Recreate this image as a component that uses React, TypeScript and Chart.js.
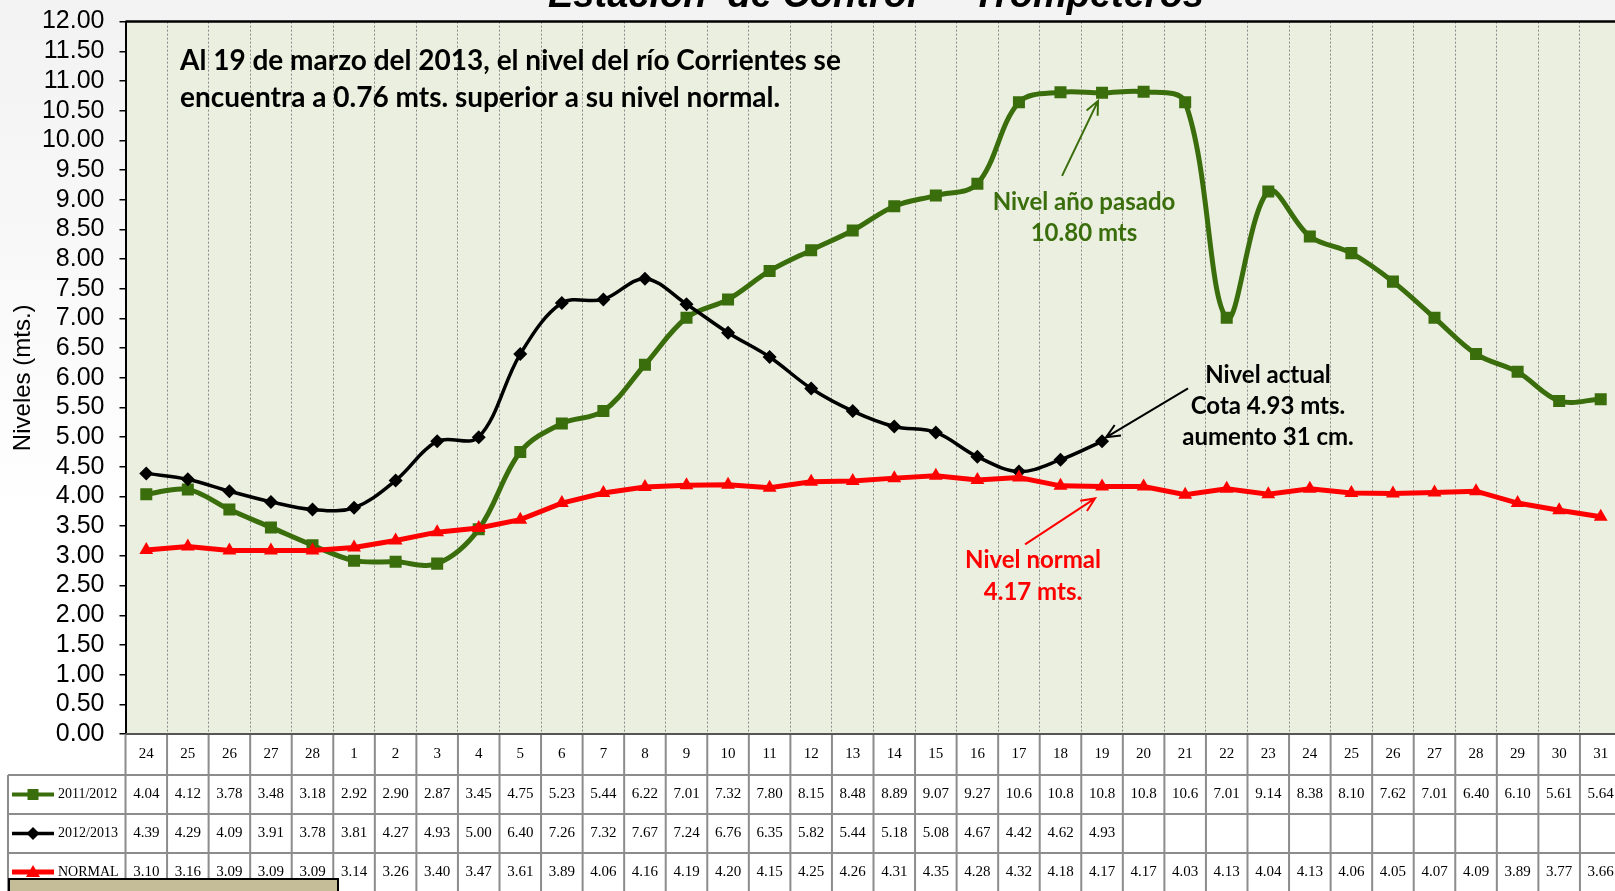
import React, { useEffect, useRef } from "react";
import { Chart, registerables } from "chart.js";

Chart.register(...registerables);

const categories = [
  "24", "25", "26", "27", "28",
  "1", "2", "3", "4", "5", "6", "7", "8", "9", "10", "11", "12", "13", "14", "15",
  "16", "17", "18", "19", "20", "21", "22", "23", "24", "25", "26", "27", "28", "29", "30", "31",
];

const nivel20112012 = [
  4.04, 4.12, 3.78, 3.48, 3.18,
  2.92, 2.9, 2.87, 3.45, 4.75, 5.23, 5.44, 6.22, 7.01, 7.32, 7.8, 8.15, 8.48, 8.89, 9.07,
  9.27, 10.64, 10.81, 10.8, 10.82, 10.64, 7.01, 9.14, 8.38, 8.1, 7.62, 7.01, 6.4, 6.1, 5.61, 5.64,
];

const nivel20122013: (number | null)[] = [
  4.39, 4.29, 4.09, 3.91, 3.78,
  3.81, 4.27, 4.93, 5.0, 6.4, 7.26, 7.32, 7.67, 7.24, 6.76, 6.35, 5.82, 5.44, 5.18, 5.08,
  4.67, 4.42, 4.62, 4.93, null, null, null, null, null, null, null, null, null, null, null, null,
];

const nivelNormal = [
  3.1, 3.16, 3.09, 3.09, 3.09,
  3.14, 3.26, 3.4, 3.47, 3.61, 3.89, 4.06, 4.16, 4.19, 4.2, 4.15, 4.25, 4.26, 4.31, 4.35,
  4.28, 4.32, 4.18, 4.17, 4.17, 4.03, 4.13, 4.04, 4.13, 4.06, 4.05, 4.07, 4.09, 3.89, 3.77, 3.66,
];

const seriesNames = ["2011/2012", "2012/2013", "NORMAL"];
const seriesColors = ["#3A6D0B", "#000000", "#FF0000"];

const titleText = "Estación  de Control  -  Trompeteros";
const yTitle = "Niveles (mts.)";
const noteLines = [
  "Al 19 de marzo del 2013, el nivel del río Corrientes se",
  "encuentra a 0.76 mts. superior a su nivel normal.",
];
const greenNote = ["Nivel año pasado", "10.80 mts"];
const blackNote = ["Nivel actual", "Cota 4.93 mts.", "aumento 31 cm."];
const redNote = ["Nivel normal", "4.17 mts."];

const fmt = (v: number | null) =>
  v == null ? "" : v >= 10 ? v.toPrecision(3) : v.toFixed(2);

const CANVAS_W = 1630;
const CANVAS_H = 891;

function arrow(ctx: CanvasRenderingContext2D, x1: number, y1: number, x2: number, y2: number, color: string, w: number) {
  ctx.save();
  ctx.strokeStyle = color;
  ctx.lineWidth = w;
  ctx.beginPath();
  ctx.moveTo(x1, y1);
  ctx.lineTo(x2, y2);
  const ang = Math.atan2(y2 - y1, x2 - x1);
  const L = 15;
  const a = 0.42;
  ctx.moveTo(x2 - L * Math.cos(ang - a), y2 - L * Math.sin(ang - a));
  ctx.lineTo(x2, y2);
  ctx.lineTo(x2 - L * Math.cos(ang + a), y2 - L * Math.sin(ang + a));
  ctx.stroke();
  ctx.restore();
}

function drawMarker(ctx: CanvasRenderingContext2D, kind: number, x: number, y: number, color: string) {
  ctx.save();
  ctx.fillStyle = color;
  ctx.beginPath();
  if (kind === 0) {
    ctx.rect(x - 5.5, y - 5.5, 11, 11);
  } else if (kind === 1) {
    ctx.moveTo(x, y - 6.5);
    ctx.lineTo(x + 6.5, y);
    ctx.lineTo(x, y + 6.5);
    ctx.lineTo(x - 6.5, y);
    ctx.closePath();
  } else {
    ctx.moveTo(x, y - 7);
    ctx.lineTo(x + 7, y + 5);
    ctx.lineTo(x - 7, y + 5);
    ctx.closePath();
  }
  ctx.fill();
  ctx.restore();
}

const decorPlugin = {
  id: "decor",
  beforeDraw(chart: any) {
    const { ctx, chartArea: a } = chart;
    ctx.save();
    ctx.fillStyle = "#FFFFFF";
    ctx.fillRect(0, 0, chart.width, chart.height);
    const g = ctx.createLinearGradient(0, 0, 0, 520);
    g.addColorStop(0, "#F2F2F2");
    g.addColorStop(1, "#FFFFFF");
    ctx.fillStyle = g;
    ctx.fillRect(0, 0, a.left, 520);
    ctx.fillStyle = "#F3F3F3";
    ctx.fillRect(0, 0, chart.width, a.top);
    ctx.fillStyle = "#EBEFDF";
    ctx.fillRect(a.left, a.top, a.right - a.left, a.bottom - a.top);
    ctx.restore();
  },
  afterDraw(chart: any) {
    const { ctx, chartArea: a } = chart;
    const xs = chart.scales.x;
    const ys = chart.scales.y;
    const n = categories.length;
    const step = (a.right - a.left) / n;
    const px = (i: number) => xs.getPixelForValue(i);
    const py = (v: number) => ys.getPixelForValue(v);

    ctx.save();
    // title (cut at top)
    ctx.fillStyle = "#000";
    ctx.font = 'italic bold 38px "Liberation Sans"';
    ctx.textAlign = "center";
    ctx.textBaseline = "alphabetic";
    ctx.fillText(titleText, 876, 7);

    // plot top border
    ctx.strokeStyle = "#000";
    ctx.lineWidth = 2.5;
    ctx.beginPath();
    ctx.moveTo(a.left, a.top);
    ctx.lineTo(a.right, a.top);
    ctx.stroke();

    // data table
    const rowTop = a.bottom;
    const rows = [rowTop, rowTop + 41, rowTop + 80, rowTop + 119, CANVAS_H + 5];
    const tableLeft = 8;
    ctx.strokeStyle = "#8C8C8C";
    ctx.lineWidth = 2;
    ctx.beginPath();
    for (let k = 0; k <= n; k++) {
      const x = a.left + k * step;
      ctx.moveTo(x, rowTop);
      ctx.lineTo(x, CANVAS_H);
    }
    for (let r = 1; r <= 3; r++) {
      ctx.moveTo(tableLeft, rows[r]);
      ctx.lineTo(a.right, rows[r]);
    }
    ctx.moveTo(tableLeft, rows[1]);
    ctx.lineTo(tableLeft, CANVAS_H);
    ctx.stroke();

    // axis bottom line
    ctx.strokeStyle = "#555";
    ctx.lineWidth = 2;
    ctx.beginPath();
    ctx.moveTo(a.left, a.bottom);
    ctx.lineTo(a.right, a.bottom);
    ctx.stroke();

    ctx.fillStyle = "#000";
    ctx.font = '15px "Liberation Serif"';
    ctx.textAlign = "center";
    ctx.textBaseline = "middle";
    for (let i = 0; i < n; i++) {
      ctx.fillText(categories[i], px(i), (rows[0] + rows[1]) / 2);
    }
    const series = [nivel20112012, nivel20122013, nivelNormal];
    const lw = [4, 3.5, 5];
    for (let s = 0; s < 3; s++) {
      const cy = s < 2 ? (rows[s + 1] + rows[s + 2]) / 2 : rows[3] + 19;
      ctx.fillStyle = "#000";
      ctx.textAlign = "center";
      for (let i = 0; i < n; i++) {
        ctx.fillText(fmt(series[s][i] as number | null), px(i), cy);
      }
      ctx.strokeStyle = seriesColors[s];
      ctx.lineWidth = lw[s];
      ctx.beginPath();
      ctx.moveTo(12, cy);
      ctx.lineTo(54, cy);
      ctx.stroke();
      drawMarker(ctx, s, 33, cy, seriesColors[s]);
      ctx.fillStyle = "#000";
      ctx.textAlign = "left";
      ctx.font = '14px "Liberation Serif"';
      ctx.fillText(seriesNames[s], 58, cy);
      ctx.font = '15px "Liberation Serif"';
    }

    // tan box at bottom-left
    ctx.fillStyle = "#C4BD97";
    ctx.fillRect(9, 879, 329, 20);
    ctx.strokeStyle = "#000";
    ctx.lineWidth = 2;
    ctx.strokeRect(9, 879, 329, 20);

    // annotations
    ctx.textBaseline = "middle";
    ctx.fillStyle = "#000";
    ctx.font = 'bold 28px Lato';
    ctx.textAlign = "left";
    ctx.fillText(noteLines[0], 180, 61);
    ctx.fillText(noteLines[1], 180, 98);

    ctx.textAlign = "center";
    ctx.font = 'bold 24px Lato';
    ctx.fillStyle = seriesColors[0];
    ctx.fillText(greenNote[0], 1084, 202);
    ctx.fillText(greenNote[1], 1084, 233);
    ctx.fillStyle = "#000";
    ctx.fillText(blackNote[0], 1268, 375);
    ctx.fillText(blackNote[1], 1268, 406);
    ctx.fillText(blackNote[2], 1268, 437);
    ctx.fillStyle = "#FF0000";
    ctx.fillText(redNote[0], 1033, 560);
    ctx.fillText(redNote[1], 1033, 592);

    const xi = px(23);
    arrow(ctx, xi - 40, py(10.8) + 83, xi - 4, py(10.8) + 8, seriesColors[0], 2);
    arrow(ctx, xi + 86, py(4.93) - 53, xi + 4, py(4.93) - 4, "#000", 2);
    arrow(ctx, xi - 77, py(4.17) + 58, xi - 7, py(4.17) + 12, "#FF0000", 2);
    ctx.restore();
  },
};

export default function App() {
  const ref = useRef<HTMLCanvasElement | null>(null);
  useEffect(() => {
    if (!ref.current) return;
    const chart = new Chart(ref.current, {
      type: "line",
      data: {
        labels: categories,
        datasets: [
          {
            label: seriesNames[0],
            data: nivel20112012,
            borderColor: seriesColors[0],
            backgroundColor: seriesColors[0],
            borderWidth: 5,
            tension: 0.35,
            pointStyle: "rect",
            pointRadius: 8.5,
            pointBorderWidth: 0,
            order: 3,
          },
          {
            label: seriesNames[1],
            data: nivel20122013,
            borderColor: seriesColors[1],
            backgroundColor: seriesColors[1],
            borderWidth: 3.5,
            tension: 0.35,
            pointStyle: "rectRot",
            pointRadius: 7,
            pointBorderWidth: 0,
            spanGaps: false,
            order: 2,
          },
          {
            label: seriesNames[2],
            data: nivelNormal,
            borderColor: seriesColors[2],
            backgroundColor: seriesColors[2],
            borderWidth: 5,
            tension: 0,
            pointStyle: "triangle",
            pointRadius: 8,
            pointBorderWidth: 0,
            order: 1,
          },
        ],
      },
      options: {
        responsive: false,
        animation: false,
        layout: { padding: { top: 21.6, left: 0, right: 5.5, bottom: 157 } },
        plugins: {
          legend: { display: false },
          tooltip: { enabled: false },
          title: { display: false },
        },
        scales: {
          x: {
            type: "category",
            offset: true,
            ticks: { display: false },
            grid: {
              offset: true,
              drawTicks: false,
              color: "#8A8A8A",
              lineWidth: 1,
            },
            border: { display: false, dash: [2, 2] },
            afterFit: (s: any) => {
              s.height = 0;
              s.paddingLeft = 0;
              s.paddingRight = 0;
            },
          },
          y: {
            min: 0,
            max: 12,
            ticks: {
              stepSize: 0.5,
              autoSkip: false,
              color: "#000",
              padding: 15,
              font: { family: '"Liberation Sans"', size: 25 },
              callback: (v: any) => Number(v).toFixed(2),
            },
            grid: {
              drawOnChartArea: false,
              drawTicks: true,
              tickLength: 6,
              color: "#000",
              lineWidth: 1.5,
            },
            border: { display: true, color: "#000", width: 2 },
            title: {
              display: true,
              text: yTitle,
              color: "#000",
              font: { family: '"Liberation Sans"', size: 24 },
              padding: { top: 9, bottom: 0 },
            },
            afterFit: (s: any) => {
              s.width = 125.5;
              s.paddingTop = 0;
              s.paddingBottom = 0;
            },
          },
        },
      },
      plugins: [decorPlugin],
    });
    return () => chart.destroy();
  }, []);

  return (
    <div
      style={{
        position: "absolute",
        left: 0,
        top: 0,
        width: 1615,
        height: 891,
        overflow: "hidden",
        background: "#fff",
      }}
    >
      <canvas ref={ref} width={CANVAS_W} height={CANVAS_H} style={{ width: CANVAS_W, height: CANVAS_H, display: "block" }} />
    </div>
  );
}
